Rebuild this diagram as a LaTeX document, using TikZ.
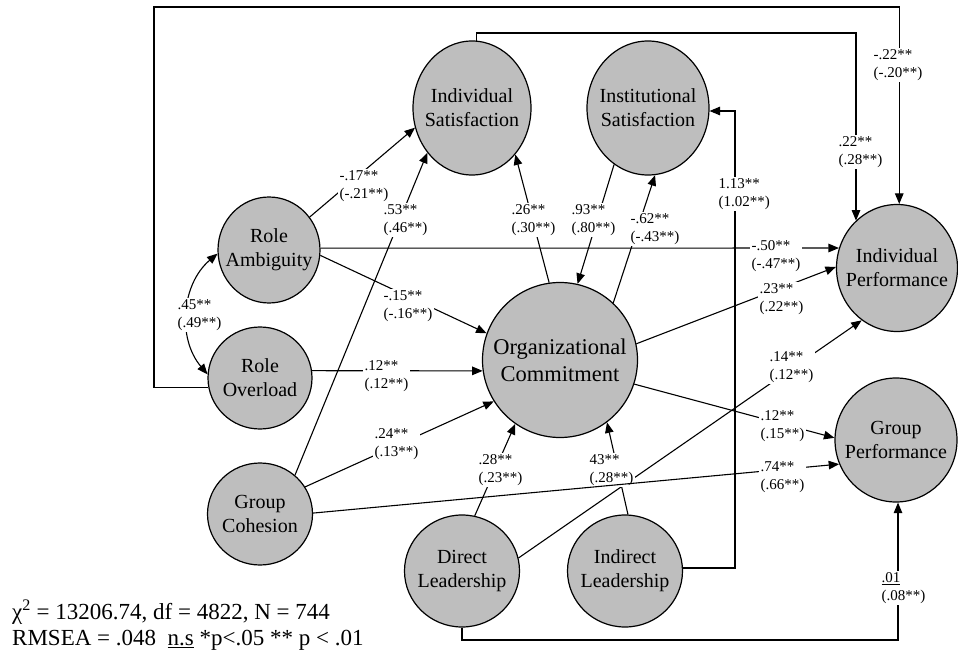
\documentclass[tikz,border=0pt]{standalone}
\usepackage{fontspec}
\setmainfont{Liberation Serif}
\usetikzlibrary{shapes.geometric,arrows.meta,calc}
\definecolor{lat}{RGB}{190,190,190}
\begin{document}
\begin{tikzpicture}[x=1pt,y=-1pt,
  latent/.style={ellipse,draw,fill=lat,line width=1.2pt,inner sep=0pt},
  ntext/.style={align=center,font=\fontsize{20}{24}\selectfont,inner sep=0pt},
  btext/.style={align=center,font=\fontsize{22.5}{27}\selectfont,inner sep=0pt},
  arr/.style={line width=1.1pt,-{Triangle[length=10.5pt,width=8.5pt]}},
  darr/.style={line width=1.1pt,{Triangle[length=10.5pt,width=8.5pt]}-{Triangle[length=10.5pt,width=8.5pt]}},
  lab/.style={fill=white,align=left,anchor=west,inner sep=1.5pt,font=\fontsize{15}{18}\selectfont}]
\useasboundingbox (0,0) rectangle (958,652);

% latent variables
\node[latent,minimum width=118pt,minimum height=134pt,label={[ntext]center:Individual\\Satisfaction}] (IS) at (472,108) {};
\node[latent,minimum width=122pt,minimum height=134pt,label={[ntext]center:Institutional\\Satisfaction}] (InS) at (648,108) {};
\node[latent,minimum width=102pt,minimum height=106pt,label={[ntext]center:Role\\Ambiguity}] (RA) at (269,250) {};
\node[latent,minimum width=104pt,minimum height=102pt,label={[ntext]center:Role\\Overload}] (RO) at (260,378) {};
\node[latent,minimum width=105pt,minimum height=102pt,label={[ntext]center:Group\\Cohesion}] (GC) at (260,514) {};
\node[latent,minimum width=155pt,minimum height=155pt,label={[btext]center:Organizational\\Commitment}] (OC) at (560,360) {};
\node[latent,minimum width=115pt,minimum height=112pt,label={[ntext]center:Direct\\Leadership}] (DL) at (462,571) {};
\node[latent,minimum width=115pt,minimum height=112pt,label={[ntext]center:Indirect\\Leadership}] (IL) at (625,571) {};
\node[latent,minimum width=121pt,minimum height=127pt,label={[ntext]center:Individual\\Performance}] (IP) at (897,268) {};
\node[latent,minimum width=122pt,minimum height=124pt,label={[ntext]center:Group\\Performance}] (GP) at (896,440) {};

% corner coordinates of the routed paths
\coordinate (tl) at (154,7);
\coordinate (c22) at (856,33);
\coordinate (c113) at (735,111);
\coordinate (c01) at (898,640);

% straight paths
\draw[arr] (RA.39) -- (IS.199);
\draw[arr] (GC.48) -- (IS.225);
\draw[arr] (RA.2) -- (IP.161);
\draw[arr] (RA.354) -- (OC.160);
\draw[arr] (RO.8) -- (OC.188);
\draw[arr] (GC.31) -- (OC.212);
\draw[arr] (DL.77) -- (OC.235);
\draw[arr] (IL.87) -- (OC.307);
\draw[arr] (DL.13) -- (IP.236);
\draw[arr] (OC.98) -- (IS.313);
\draw[arr] (InS.239) -- (OC.77);
\draw[arr] (OC.47) -- (InS.276);
\draw[arr] (OC.12) -- (IP.179);
\draw[arr] (OC.342) -- (GP.178);
\draw[darr] (RA.184) to[bend right=45] (RO.176);

% routed paths
\draw[arr] (RO.190) -- (RO.190 -| tl) -- (tl) -| (IP.88);
\draw[arr] (IS.86) |- (c22) -- (c22 |- IP.131);
\draw[arr] (IL.3) -| (c113) -- (c113 -| InS.357);
\draw[arr] (DL.south) |- (c01) -- (c01 |- GP.south);

% coefficient labels
\node[lab] (l17) at (338,186) {-.17**\\(-.21**)};
\node[lab] (l53) at (382,220) {.53**\\(.46**)};
\node[lab] (l26) at (510,220) {.26**\\(.30**)};
\node[lab] (l93) at (570,220) {.93**\\(.80**)};
\node[lab] (l62) at (629,229) {-.62**\\(-.43**)};
\node[lab] (l113) at (717,194) {1.13**\\(1.02**)};
\node[lab] (l22) at (837,152) {.22**\\(.28**)};
\node[lab] (lm22) at (872,65) {-.22**\\(-.20**)};
\node[lab] (l50) at (750,256) {-.50**\\(-.47**)};
\node[lab] (l23) at (758,299) {.23**\\(.22**)};
\node[lab] (l15) at (382,306) {-.15**\\(-.16**)};
\node[lab] (l45) at (176,315) {.45**\\(.49**)};
\node[lab] (l12a) at (363,376) {.12**\\(.12**)};
\node[lab] (l24) at (373,444) {.24**\\(.13**)};
\node[lab] (l28) at (477,470) {.28**\\(.23**)};
\node[lab] (l43) at (588,470) {43**\\(.28**)};
\node[lab] (l14) at (768,367) {.14**\\(.12**)};
\node[lab] (l12b) at (759,426) {.12**\\(.15**)};
\node[lab] (l01) at (880,588) {\underline{.01}\\(.08**)};

% group cohesion -> group performance (drawn over the other labels)
\draw[arr] (GC.1) -- (GP.203);
\node[lab] (l74) at (759,477) {.74**\\(.66**)};

% fit statistics
\node[anchor=west,align=left,inner sep=0pt,font=\fontsize{23}{26}\selectfont] (stats) at (12,625)
  {χ\textsuperscript{2} = 13206.74, df = 4822, N = 744\\RMSEA = .048\ \ \underline{n.s} *p<.05 ** p < .01};
\end{tikzpicture}
\end{document}
